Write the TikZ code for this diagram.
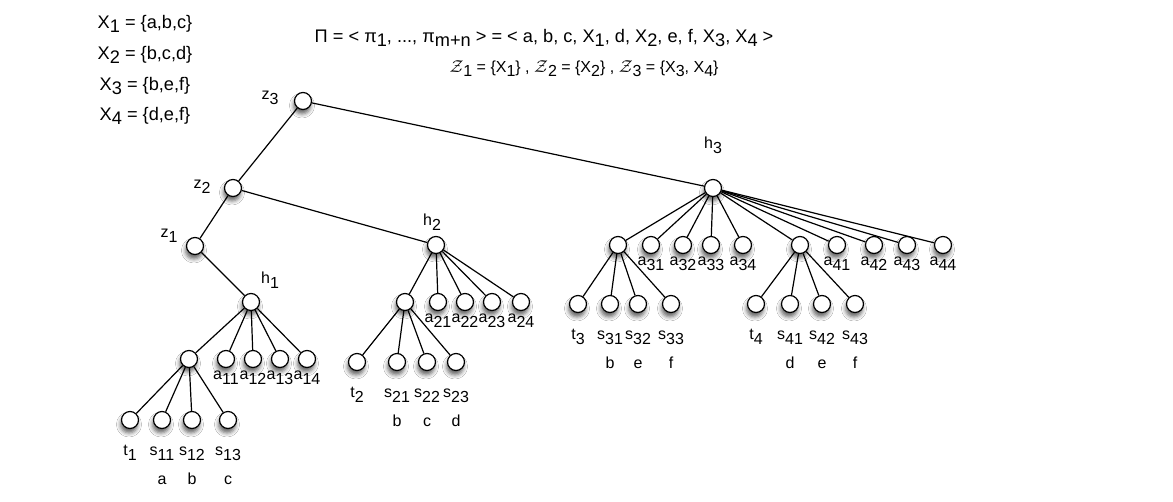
\documentclass[tikz,border=0pt]{standalone}
\usepackage{fontspec}
\setmainfont{Liberation Sans}
\usetikzlibrary{shadows.blur}
\newcommand{\lsub}[1]{\raisebox{-0.35em}{#1}}
\newcommand{\tsub}[1]{\raisebox{-0.25em}{#1}}
\tikzset{
  vtx/.style={circle, draw, fill=white, minimum size=17pt, inner sep=0pt, line width=1.2pt,
    blur shadow={shadow xshift=-1pt, shadow yshift=-4.5pt, shadow blur radius=4pt, shadow opacity=60}},
  conn/.style={line width=1.2pt},
  lbl/.style={anchor=base, inner sep=0pt, font=\fontsize{16}{19}\selectfont},
  big/.style={anchor=base, inner sep=0pt, font=\fontsize{18.2}{22}\selectfont},
  mid/.style={anchor=base, inner sep=0pt, font=\fontsize{16}{19}\selectfont},
}
\begin{document}
\begin{tikzpicture}[x=1pt,y=-1pt]
\useasboundingbox[fill=white] (0,0) rectangle (1173,501);
% texts
\node[big] (x1) at (145,28) {X\tsub{1} = \{a,b,c\}};
\node[big] (x2) at (145,59) {X\tsub{2} = \{b,c,d\}};
\node[big] (x3) at (145,90) {X\tsub{3} = \{b,e,f\}};
\node[big] (x4) at (145,120) {X\tsub{4} = \{d,e,f\}};
\node[big] (pi) at (544,42) {Π = < π\tsub{1}, ..., π\tsub{m+n} > = < a, b, c, X\tsub{1}, d, X\tsub{2}, e, f, X\tsub{3}, X\tsub{4} >};
\node[mid] (zz) at (584,72) {$\mathcal{Z}$\tsub{1} = \{X\tsub{1}\} , $\mathcal{Z}$\tsub{2} = \{X\tsub{2}\} , $\mathcal{Z}$\tsub{3} = \{X\tsub{3}, X\tsub{4}\}};
% vertices
\foreach \n/\x/\y in {z3/303/101, z2/233/188, z1/195/246, h1/251/302, h2/436/245, h3/713/188,
  i1/189/359, a11/226/359, a12/253/359, a13/280/359, a14/307/359,
  t1/130/420, s11/162/420, s12/192/420, s13/228/420,
  i2/405/302, a21/438/302, a22/465/302, a23/492/302, a24/521/302,
  t2/357/362, s21/397/362, s22/427/362, s23/456/362,
  i3/618/245, a31/651/245, a32/683/245, a33/711/245, a34/743/245,
  i4/800/245, a41/837/245, a42/874/245, a43/907/245, a44/943/245,
  t3/578/304, s31/610/304, s32/638/304, s33/671/304,
  t4/756/304, s41/790/304, s42/822/304, s43/855/304}
  \node[vtx] (\n) at (\x,\y) {};
% connectors
\foreach \p/\c in {z3/z2, z3/h3, z2/z1, z2/h2, z1/h1,
  h1/i1, h1/a11, h1/a12, h1/a13, h1/a14, i1/t1, i1/s11, i1/s12, i1/s13,
  h2/i2, h2/a21, h2/a22, h2/a23, h2/a24, i2/t2, i2/s21, i2/s22, i2/s23,
  h3/i3, h3/a31, h3/a32, h3/a33, h3/a34, h3/i4, h3/a41, h3/a42, h3/a43, h3/a44,
  i3/t3, i3/s31, i3/s32, i3/s33, i4/t4, i4/s41, i4/s42, i4/s43}
  \draw[conn] (\p) -- (\c);
% vertex labels
\node[lbl] (lz3) at (270,99) {z\lsub{3}};
\node[lbl] (lz2) at (202,188) {z\lsub{2}};
\node[lbl] (lz1) at (169,237) {z\lsub{1}};
\node[lbl] (lh1) at (270,283) {h\lsub{1}};
\node[lbl] (lh2) at (432,225) {h\lsub{2}};
\node[lbl] (lh3) at (713,148) {h\lsub{3}};
\foreach \n/\t in {a11/11, a12/12, a13/13, a14/14, a21/21, a22/22, a23/23, a24/24,
  a31/31, a32/32, a33/33, a34/34, a41/41, a42/42, a43/43, a44/44}
  \node[lbl, yshift=-20pt] (l\n) at (\n) {a\lsub{\t}};
\foreach \n/\t in {s11/11, s12/12, s13/13, s21/21, s22/22, s23/23,
  s31/31, s32/32, s33/33, s41/41, s42/42, s43/43}
  \node[lbl, yshift=-35pt] (l\n) at (\n) {s\lsub{\t}};
\foreach \n/\t in {t1/1, t2/2, t3/3, t4/4}
  \node[lbl, yshift=-35pt] (l\n) at (\n) {t\lsub{\t}};
\foreach \n/\t in {s11/a, s12/b, s13/c, s21/b, s22/c, s23/d,
  s31/b, s32/e, s33/f, s41/d, s42/e, s43/f}
  \node[lbl, yshift=-64pt] (v\n) at (\n) {\t};
\end{tikzpicture}
\end{document}
